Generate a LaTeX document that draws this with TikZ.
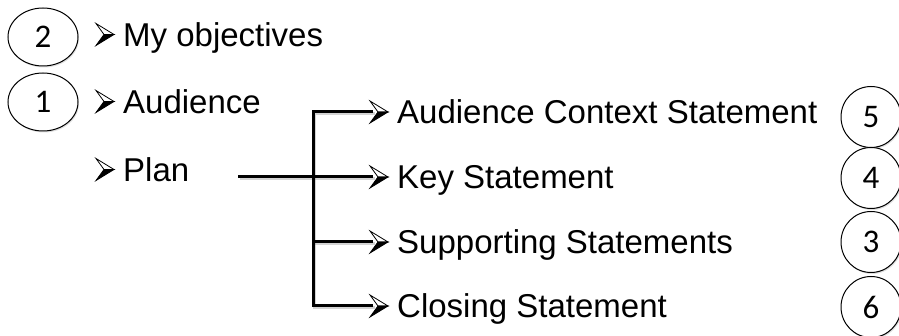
\documentclass[tikz,border=0pt]{standalone}
\usepackage{fontspec}
\setmainfont{Liberation Sans}
\newfontfamily\digitfont{Carlito}
\usetikzlibrary{shapes.geometric,shadows}

\begin{document}
\begin{tikzpicture}[x=1pt,y=-1pt,
  item/.style={anchor=west, inner sep=0pt, text height=23.5pt, text depth=0pt,
    font=\fontsize{33}{40}\selectfont},
  badge/.style={ellipse, draw, line width=1pt, fill=white, inner sep=0pt,
    font=\digitfont\fontsize{33}{38}\selectfont,
    drop shadow={opacity=0.25, shadow xshift=1pt, shadow yshift=-1.5pt}},
  wide/.style={minimum width=70pt, minimum height=58pt},
  tall/.style={minimum width=60pt, minimum height=61pt},
  conn/.style={line width=3pt},
  connshadow/.style={line width=3.5pt, gray, opacity=0.35, transform canvas={shift={(1.5pt,-1.5pt)}}},
  % 3-D arrowhead bullet: outlined upper half, solid lower half
  listmark/.pic={
    \filldraw[line width=0.8pt, fill=white, line join=miter] (0,-11) -- (18,0) -- (8,0) -- cycle;
    \filldraw[line width=0.8pt, line join=miter] (0,11) -- (18,0) -- (8,0) -- cycle;
  }]
\useasboundingbox (0,0) rectangle (899,336);

% order badges
\node[badge, wide] (n2) at (43,37)  {2};
\node[badge, wide] (n1) at (43,102) {1};
\node[badge, tall] (n5) at (871,117) {5};
\node[badge, tall] (n4) at (871,178) {4};
\node[badge, tall] (n3) at (871,242) {3};
\node[badge, tall] (n6) at (871,307) {6};

% left list
\node[item] (obj)  at (123,34.5)  {My objectives};
\node[item] (aud)  at (123,101.5) {Audience};
\node[item] (plan) at (123,169.5) {Plan};

% plan breakdown
\node[item] (ctx)  at (397,112) {Audience Context Statement};
\node[item] (key)  at (397,177) {Key Statement};
\node[item] (sup)  at (397,242) {Supporting Statements};
\node[item] (clo)  at (397,306) {Closing Statement};

\coordinate (planout) at (238,177);
\coordinate (trunk) at (313,0);

\foreach \s in {connshadow, conn} {
  \draw[\s] (planout) -- ([xshift=-24pt]key.west);
  \draw[\s] ([xshift=-24pt]ctx.west) -- (ctx.west -| trunk) -- (clo.west -| trunk) -- ([xshift=-24pt]clo.west);
  \draw[\s] (sup.west -| trunk) -- ([xshift=-24pt]sup.west);
}

% bullets in front of every entry
\foreach \n in {obj, aud, plan, ctx, key, sup, clo}
  \pic at ([xshift=-27pt]\n.west) {listmark};
\end{tikzpicture}
\end{document}
